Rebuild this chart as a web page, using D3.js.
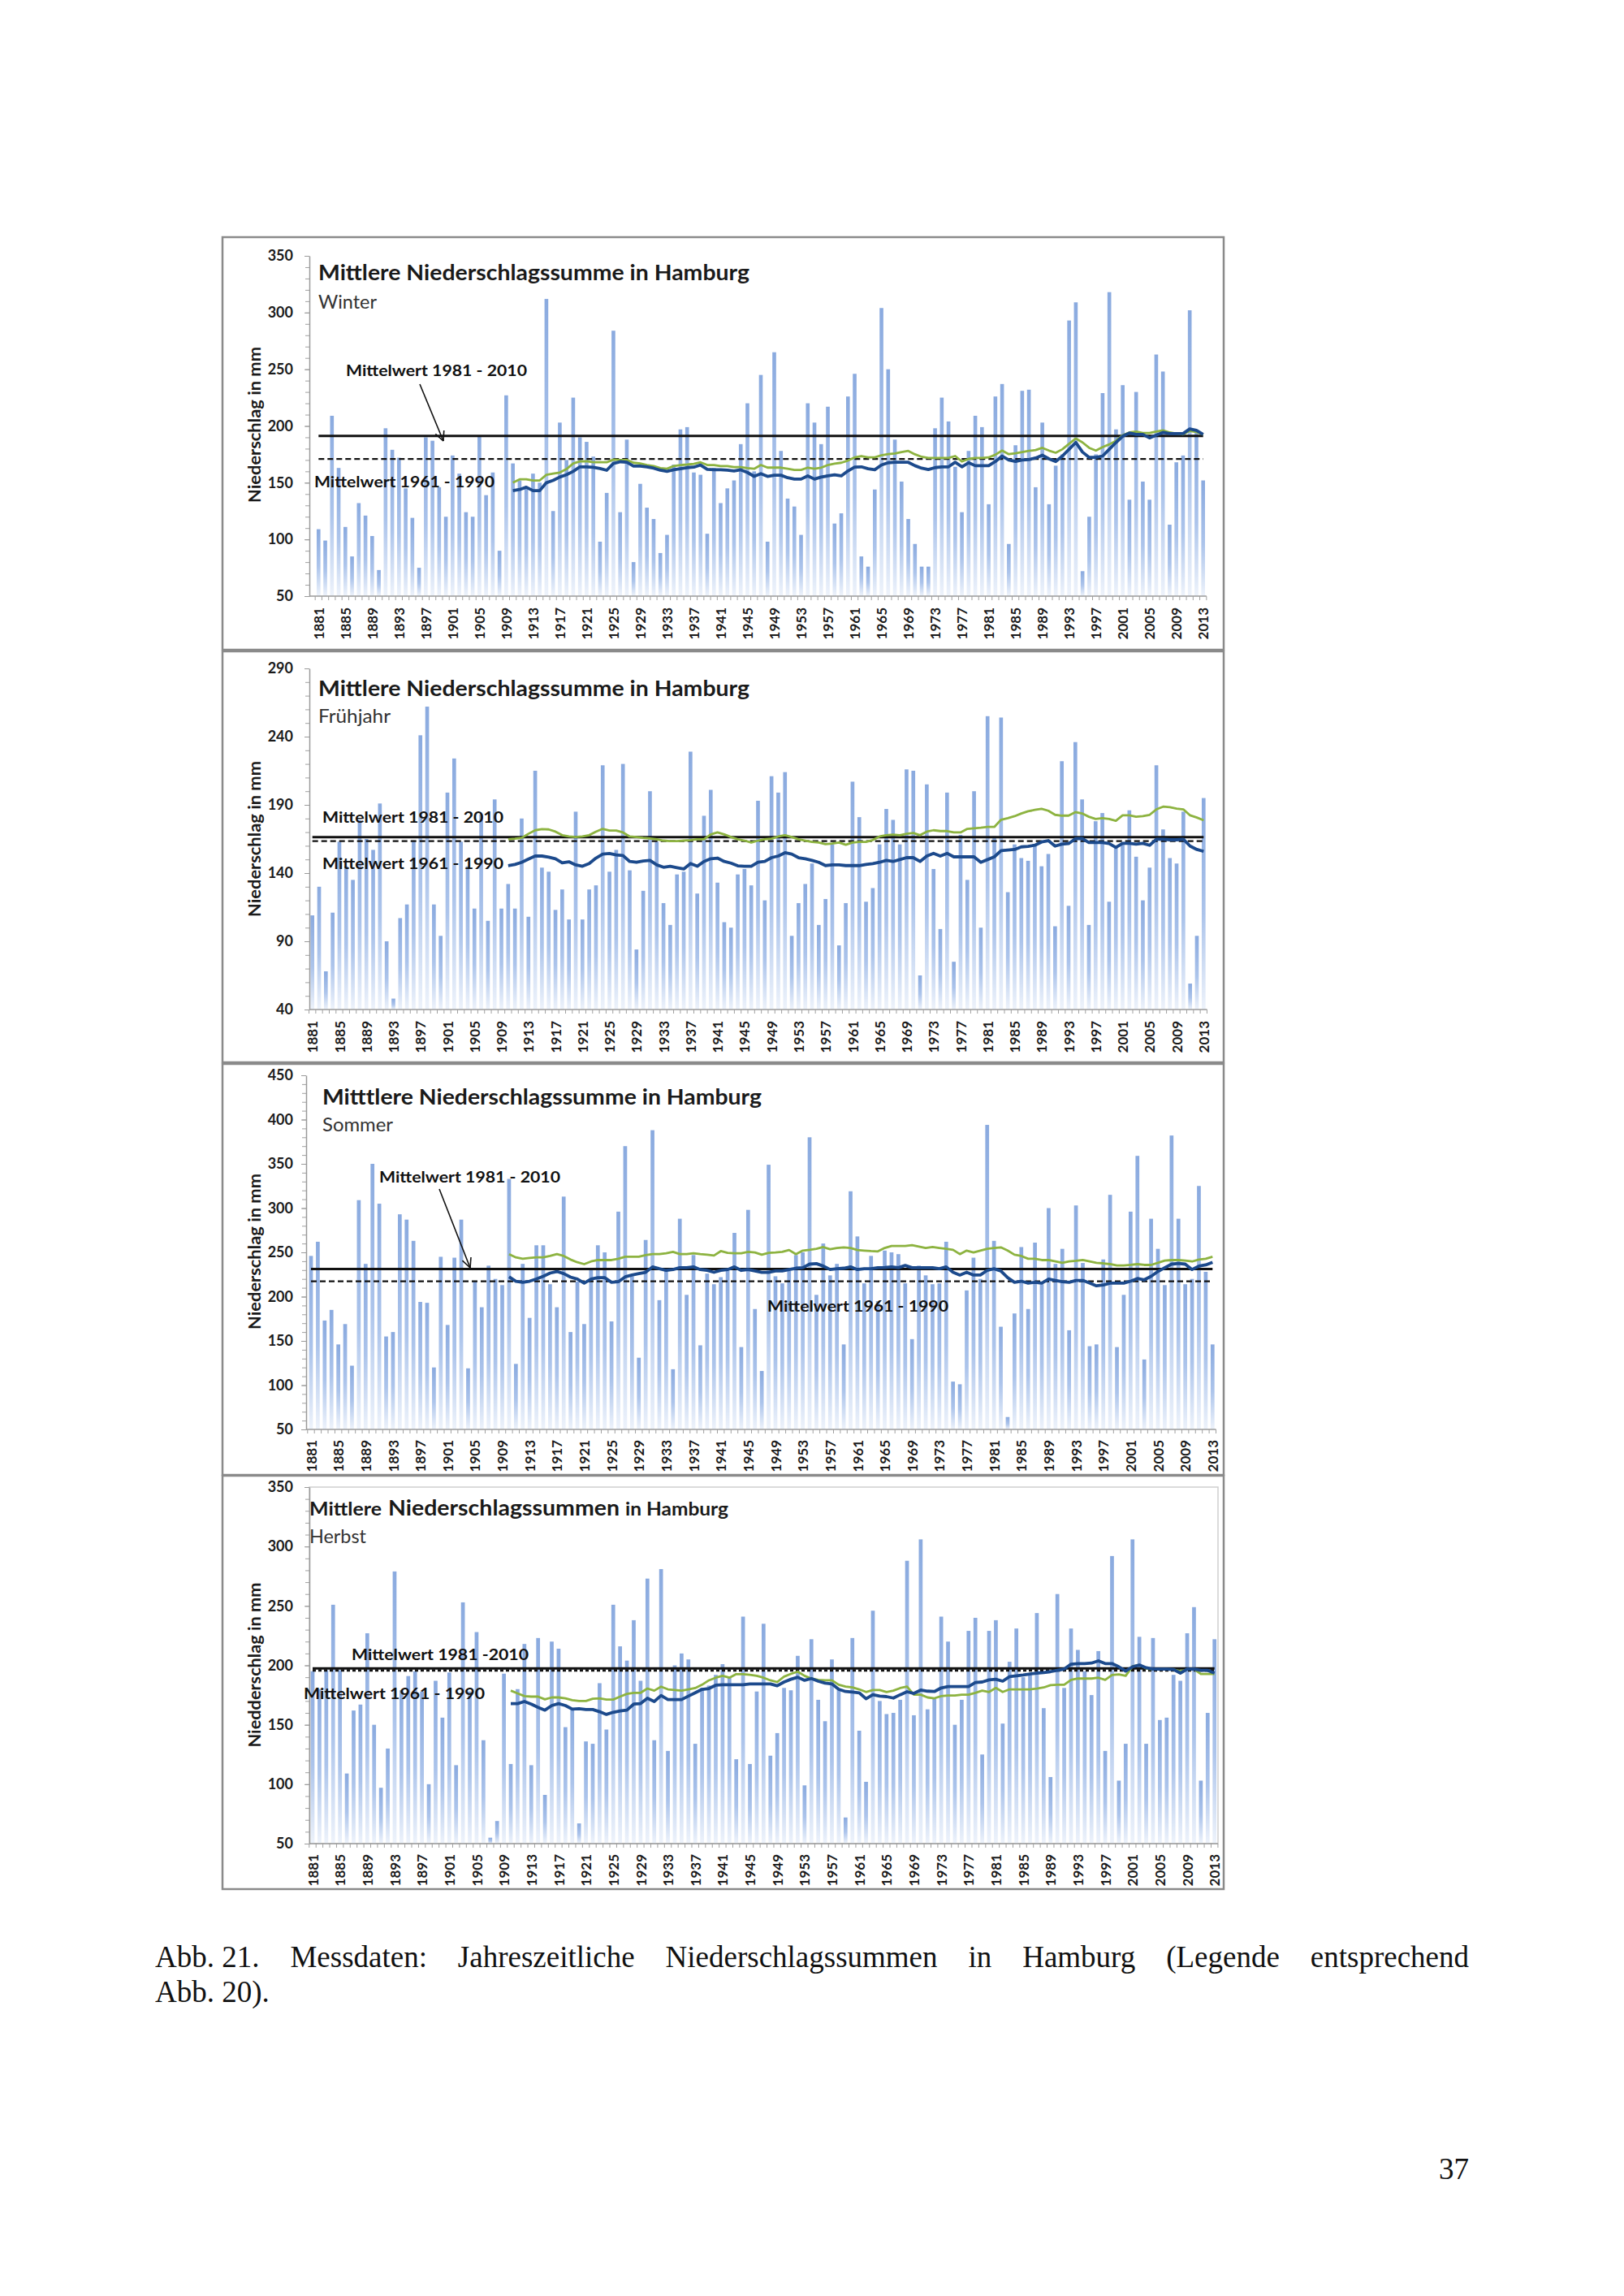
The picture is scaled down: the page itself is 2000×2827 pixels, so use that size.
<!DOCTYPE html>
<html><head><meta charset="utf-8">
<script src="https://cdn.jsdelivr.net/npm/d3@7/dist/d3.min.js"></script>
<style>body{margin:0;background:#fff}svg{display:block}</style>
</head><body>
<svg id="c" width="2000" height="2827"></svg>
<script>
// ---------------- DATA ----------------
const years = d3.range(1881, 2014);
const smoothYears = d3.range(1910, 2014);
const tickYears = years.filter(y => (y - 1881) % 4 === 0);

const winter = [109,99,209,163,111,85,132,121,103,73,
198,179,172,145,119,75,190,187,146,120,
174,158,124,120,191,139,159,90,227,167,
152,145,158,150,312,125,203,170,225,190,
186,173,98,141,284,124,188,80,149,128,
118,88,104,166,197,199,159,157,105,163,
132,145,152,184,220,160,245,98,265,178,
136,129,104,220,203,184,217,114,123,226,
246,85,76,144,304,250,188,151,118,96,
76,76,198,225,204,164,124,178,209,199,
131,226,237,96,183,231,232,146,203,131,
165,175,293,309,72,120,175,229,318,197,
236,135,230,151,135,263,248,113,168,174,
302,195,152];
const winterGreen = [150,153,153,152,152,157,158,159,162,167,
168.7,169,168,168,168,170.4,170,170,167.6,167,
165.6,164.7,162.8,162.3,164.7,165.6,166,166.6,168,165.6,
165.6,164.7,164.7,163.7,163.7,162.8,162.3,165.6,163.3,163.3,
163.3,162.3,161.3,161.3,163.3,162.3,163.3,165.6,166.8,167.6,
169.5,172.3,173.5,172.3,172.3,174.2,175.2,175.7,177,178,
175,172.8,171.8,171.8,171.8,171.8,173.5,168.7,171,171.8,
171.8,172.3,174.7,178.3,175.2,176,177,178,178.8,180.7,
178.3,176.4,179.5,184.3,189,185.5,180.7,178.3,181.4,183.8,
187,191.9,194.3,195,193.8,193.8,195,196.2,194.3,193.3,
192.6,195.7,194.7,192.6];
const winterBlue = [143,144,146,143,143,150,152,155,157,160,
164,164,163.5,162.5,161,167,168.5,168,164.7,164.7,
164,162.8,161,160,161.4,162.3,163.3,163.7,165.6,161.8,
161.4,161.4,161,160.4,161.4,159,155.6,158,155.6,156.6,
156.6,154.4,153.2,153.2,156,153.2,155,156,157,156,
160.4,163.7,164,162.3,161.4,165.6,167.6,168,168,168,
165,162.8,161.6,163.3,164,164,168,164,167.6,165,
165,165,168.7,173.5,170,168.7,170,170.4,171.8,174.2,
171,168.7,173.5,179.5,185.5,177,172.3,172.3,173.5,179.5,
185.5,191,193.8,192.6,192.6,189.5,191.9,194.3,193.3,193.3,
193.3,197.4,196.2,192.6];

const spring = [109,130,68,111,163,145,135,179,165,157,
191,90,48,107,117,164,241,262,117,94,
199,224,163,145,114,183,105,194,114,132,
114,180,108,215,144,141,113,128,106,185,
106,128,131,219,141,157,220,142,84,127,
200,163,118,102,139,141,229,125,182,201,
133,104,100,139,143,131,193,120,211,199,
214,94,118,132,147,102,121,161,87,118,
207,181,119,129,161,187,179,161,216,215,
65,205,143,99,199,75,168,135,200,100,
255,167,254,126,161,151,149,161,145,154,
101,222,116,236,194,102,178,184,119,159,
162,186,152,120,144,219,172,151,147,185,
59,94,195];
const springGreen = [164.8,165.2,165.8,168.8,171.4,172.2,172,170.4,167.8,166.8,
166.4,166.8,167.8,170.4,172.4,171.2,171.2,169.8,166.8,166.4,
165.8,165.4,164.8,163.8,163.4,163.4,163.8,164.2,164.8,164.8,
168.4,169.8,168.4,166.4,164.8,163.8,162.4,163.8,164.8,165.2,
166.8,167.8,166.4,164.8,163.8,162.8,162.4,161.2,161.6,162.4,
160.8,162.4,162.8,162.8,164.2,166.8,167.8,168.2,167.8,168.8,
169.4,167.8,170.4,171.4,170.8,170.8,169.8,169.8,172.4,172.8,
173.2,173.8,173.8,179.1,180.3,181.7,183.7,185.3,186.3,187.1,
185.7,182.7,182.1,182.1,184.7,183.7,181.3,179.7,180.3,179.7,
178.3,182.3,182.3,181.3,181.7,182.7,186.7,188.7,188.3,187.3,
186.7,182.3,180.7,178.7];
const springBlue = [145.5,146.3,147.9,150.3,152.5,152.5,151.7,150.5,147.5,148.3,
146,145,147,151,153.9,154.3,153.3,152.9,148.5,147.9,
148.9,149.3,146,144.3,145,144,143,147,145,148.5,
150.5,151,148.5,147.3,145.3,145,145,147.9,148.5,151.3,
152.5,154.9,153.9,151.3,150.5,149.3,147.9,145.5,146,146,
145.5,145.5,145.5,146.3,146.9,147.9,149.3,148.5,149.9,151.3,
151.3,148.5,152.5,154.5,152.5,154.5,151.9,151.9,151.9,151.9,
147.9,149.9,151.9,156.5,156.9,157.3,159.2,159.6,160.4,162.8,
163.8,159.8,161.2,161.6,165.2,165.4,162.4,162.4,162.4,161.6,
158.8,161.8,161.8,161.2,161.8,160.4,164.8,164.8,164.4,164.4,
164.8,159.8,157.3,155.9];

const summer = [246,262,173,185,146,169,122,309,237,350,
305,155,160,293,287,263,194,193,120,245,
168,244,287,119,218,188,235,220,213,333,
124,237,176,258,258,214,188,313,160,217,
169,232,258,250,172,296,370,223,131,264,
388,196,229,118,288,202,247,145,226,214,
222,229,272,143,298,186,116,349,223,215,
229,247,250,380,202,260,224,237,146,319,
268,215,246,195,252,250,248,215,152,235,
224,214,215,262,104,101,207,244,220,394,
263,166,64,181,256,186,261,214,300,237,
254,162,303,238,144,146,242,315,143,202,
296,359,129,288,254,213,382,288,214,220,
325,228,146];
const summerGreen = [248,244.3,242.8,243.7,244.3,244.3,245.9,248,245.9,241.9,
238.8,236.7,239.7,241.3,241.3,241.3,242.8,245,245,245,
246.8,248,248,249,250.5,248,248,249,248,247.4,
246.5,251.4,249.5,249,249,250.5,249.9,247.4,249.5,249.9,
250.5,252.6,248,252,252.9,254.1,256,253.5,255,255.7,
255,252.6,252,251.4,251.1,255,257.2,257.2,257.2,258.1,
256.6,255,256,255,254.1,252.9,248,252,249.9,252,
254.1,255,255.7,252,247.4,245.9,242.8,242.8,241.3,241.3,
239.7,238.2,239.7,240.4,241.3,239.7,238.2,237.6,236.7,235.2,
235.2,235.8,236.7,235.8,235.8,238.2,240.7,241.3,241.3,240.7,
239.7,241.9,242.8,245];
const summerBlue = [222.3,217.4,216.2,217.4,219.9,222.9,226.6,228.4,226,222,
219.9,215.3,219.9,221.4,221.4,216.2,216.8,222.3,224.4,226,
227.5,233.6,231.5,229.6,230.6,232.7,232.7,233.6,230.6,229.6,
227.5,229.6,230.6,233.6,229.6,230.6,229,227.5,227.5,229,
229,230.6,232.1,232.7,236.7,237.3,234.5,230.6,231.5,232.1,
233.6,230.6,231.5,231.5,232.7,233,233.6,232.7,235.2,232.7,
232.7,232.7,232.7,231.5,233.6,227.5,224.4,227.5,224.4,224.4,
229.6,231.5,229,221.4,216.2,217.4,215.3,216.2,215.3,219.9,
218.3,216.8,216.2,218.3,218.3,215.3,212.2,213.1,215.3,215.3,
215.3,217.4,220.5,219,222.9,228.4,232.7,236.7,237.6,236.7,
230.6,234.5,235.8,238.8];

const autumn = [195,180,196,251,196,109,162,167,227,150,
97,130,279,179,191,195,178,100,187,156,
194,116,253,178,228,137,55,69,193,117,
180,218,116,223,91,220,214,148,163,67,
136,134,185,146,251,216,204,238,187,273,
137,281,128,200,210,205,134,181,183,192,
201,190,121,241,117,178,235,124,143,181,
179,208,99,222,171,153,205,179,72,223,
145,102,246,170,159,160,171,288,158,306,
163,172,241,220,150,171,229,240,125,229,
238,151,203,231,190,192,244,164,106,260,
181,231,213,195,175,212,128,292,103,134,
306,224,134,223,154,156,192,187,227,249,
103,160,222];
const autumnGreen = [178.7,176.4,174.1,173.7,173.7,171.4,173,173,172.3,170.7,
170,170,171.9,172.3,171.2,171.2,173.7,176,176.9,176.9,
180.5,178.7,182.1,179.8,179.2,178.7,179.8,180.9,183.7,187.4,
189.6,191.2,189.6,192.6,192.6,192.1,191.2,189.6,187.4,186,
190.5,192.8,194.7,191.2,188.9,187.8,187.4,187.4,183.7,182.1,
181.4,179.8,177.6,179.2,179.2,177.6,178.7,180.9,182.1,175.3,
175.3,173,172.3,174.1,174.6,174.6,175.3,175.3,176.9,178.7,
177.6,181,177.6,179.8,179.8,179.8,179.8,180.5,181.4,183.3,
183.7,183.7,187.8,188.9,188.9,188.9,189.6,187.8,191.9,192.4,
191.2,199.2,200.3,197.4,196.5,196.5,196.5,196.5,195.1,196.5,
196.9,192.8,192.8,192.8];
const autumnBlue = [167.8,167.8,169.6,167.4,164.6,162.3,166.2,167.8,166.2,163.2,
163.5,162.8,162.8,161,158.7,160.5,161.6,162.3,167.4,167.8,
172.3,169.6,174.6,171.2,171.2,171.2,174.1,176.9,179.8,180.5,
183.3,183.7,183.7,183.7,183.7,184.4,184.4,184.4,184.4,182.8,
186,188.3,190,187.4,188.9,186.7,185.1,184.4,179.8,178,
177.6,176.9,171.9,175.3,174.1,173.7,172.5,175.3,177.8,176.4,
179.2,178.3,178,181,182.1,182.1,182.1,182.1,185.5,186,
187.8,188.3,186.7,190.5,191.2,191.9,192.8,193.5,194,194.7,
195.8,196.9,201,201.5,201.5,201.9,203.8,201.5,201.5,198.8,
195.1,198.8,200.3,198,196.9,196.9,196.9,196.5,193.5,196.9,
196.9,195.8,195.8,193.5];

// reference means [1981-2010, 1961-1990]
const means = {winter:[191.2,170.9], spring:[166.4,163.4], summer:[231.2,217.4], autumn:[197.4,195.8]};
const yDomains = {winter:[50,350], spring:[40,290], summer:[50,450], autumn:[50,350]};

// ---------------- LAYOUT ----------------
const panels = [
 {key:"winter", values:winter, green:winterGreen, blue:winterBlue,
  frame:[274,292,1507,800], axisX:381, yTop:315, yBot:734, c0:392.3, c1:1481.7, labelY:748,
  titles:[{t:"Mittlere Niederschlagssumme in Hamburg", x:392, w:531, size:27}], titleY:345,
  sub:"Winter", subX:392, subY:380, subW:72,
  yTitle:"Niederschlag in mm", yTitleCY:523, yTitleW:192,
  notes:[{t:"Mittelwert 1981 - 2010", x:426, y:463, w:223},{t:"Mittelwert 1961 - 1990", x:387, y:600, w:222}],
  arrows:[[517,473,546,543]], box:false},
 {key:"spring", values:spring, green:springGreen, blue:springBlue,
  frame:[274,802,1507,1308], axisX:381, yTop:823, yBot:1243, c0:384.7, c1:1482.3, labelY:1257,
  titles:[{t:"Mittlere Niederschlagssumme in Hamburg", x:392, w:531, size:27}], titleY:857,
  sub:"Frühjahr", subX:392, subY:890, subW:89,
  yTitle:"Niederschlag in mm", yTitleCY:1033, yTitleW:192,
  notes:[{t:"Mittelwert 1981 - 2010", x:397, y:1013, w:223},{t:"Mittelwert 1961 - 1990", x:397, y:1070, w:223}],
  arrows:[], box:false},
 {key:"summer", values:summer, green:summerGreen, blue:summerBlue,
  frame:[274,1310,1507,1816], axisX:377, yTop:1324, yBot:1760, c0:383, c1:1493.3, labelY:1773,
  titles:[{t:"Mitttlere Niederschlagssumme in Hamburg", x:397, w:541, size:27}], titleY:1360,
  sub:"Sommer", subX:397, subY:1393, subW:87,
  yTitle:"Niederschlag in mm", yTitleCY:1541, yTitleW:192,
  notes:[{t:"Mittelwert 1981 - 2010", x:467, y:1456, w:223},{t:"Mittelwert 1961 - 1990", x:945, y:1615, w:223}],
  arrows:[[541,1464,579,1561]], box:false},
 {key:"autumn", values:autumn, green:autumnGreen, blue:autumnBlue,
  frame:[274,1817,1507,2326], axisX:381, yTop:1831, yBot:2270, c0:385, c1:1495.7, labelY:2283,
  titles:[{t:"Mittlere", x:381, w:89, size:22},{t:"Niederschlagssummen", x:478, w:285, size:27},{t:"in Hamburg", x:770, w:127, size:22}], titleY:1866,
  sub:"Herbst", subX:381, subY:1900, subW:70,
  yTitle:"Niedderschlag in mm", yTitleCY:2050, yTitleW:203,
  notes:[{t:"Mittelwert 1981 -2010", x:433, y:2044, w:218},{t:"Mittelwert 1961 - 1990", x:374, y:2092, w:223}],
  arrows:[], box:true, boxRight:1500}
];

const FONT = "Lato, 'Open Sans', sans-serif";
const svg = d3.select("#c");
svg.append("rect").attr("width",2000).attr("height",2827).attr("fill","#fff");
const defs = svg.append("defs");
const grad = defs.append("linearGradient").attr("id","barGrad").attr("x1",0).attr("y1",0).attr("x2",0).attr("y2",1);
grad.append("stop").attr("offset","0%").attr("stop-color","#8AAADF");
grad.append("stop").attr("offset","55%").attr("stop-color","#ACC4EB");
grad.append("stop").attr("offset","100%").attr("stop-color","#EEF3FB");

panels.forEach(p => {
  const [fx0, fy0, fx1, fy1] = p.frame;
  const dom = yDomains[p.key];
  const gp = svg.append("g");
  const y = d3.scaleLinear().domain(dom).range([p.yBot, p.yTop]);
  const x = d3.scalePoint().domain(years).range([p.c0, p.c1]);
  const step = x.step();
  const bw = step * 0.56;
  const xEnd = p.c1 + step / 2;

  if (p.box) {
    gp.append("rect").attr("x", p.axisX).attr("y", p.yTop).attr("width", p.boxRight - p.axisX)
      .attr("height", p.yBot - p.yTop).attr("fill","none").attr("stroke","#cfcfcf").attr("stroke-width",1.5);
  }

  // bars
  gp.append("g").selectAll("rect")
    .data(years.map((yr, i) => ({yr, v: p.values[i]})))
    .join("rect")
    .attr("x", d => x(d.yr) - bw / 2)
    .attr("y", d => y(d.v))
    .attr("width", bw)
    .attr("height", d => y(dom[0]) - y(d.v))
    .attr("fill", "url(#barGrad)");

  // y axis minor ticks
  const minor = gp.append("g").attr("transform", `translate(${p.axisX},0)`)
    .call(d3.axisLeft(y).tickValues(d3.range(dom[0], dom[1] + 1, 10)).tickSize(5).tickSizeOuter(0).tickFormat(""));
  minor.select(".domain").remove();
  minor.selectAll(".tick line").attr("stroke", "#a0a0a0");
  // y axis major
  const ya = gp.append("g").attr("transform", `translate(${p.axisX},0)`)
    .call(d3.axisLeft(y).tickValues(d3.range(dom[0], dom[1] + 1, 50)).tickSize(6).tickSizeOuter(0).tickPadding(p.axisX - 361 - 6));
  ya.select(".domain").attr("stroke", "#9a9a9a").attr("stroke-width", 1.5);
  ya.selectAll(".tick line").attr("stroke", "#9a9a9a");
  ya.selectAll("text").attr("font-family", FONT).attr("font-weight", 700).attr("font-size", 18).attr("fill", "#1a1a1a");

  // x axis line + category boundary ticks
  gp.append("line").attr("x1", p.axisX).attr("x2", xEnd).attr("y1", p.yBot).attr("y2", p.yBot)
    .attr("stroke", "#9a9a9a").attr("stroke-width", 1.5);
  gp.append("g").selectAll("line").data(years.concat([2014])).join("line")
    .attr("x1", d => (d <= 2013 ? x(d) : p.c1 + step) - step / 2)
    .attr("x2", d => (d <= 2013 ? x(d) : p.c1 + step) - step / 2)
    .attr("y1", p.yBot).attr("y2", p.yBot + 5).attr("stroke", "#a0a0a0").attr("stroke-width", 1);

  // year labels
  const xa = gp.append("g").attr("transform", `translate(0,${p.yBot})`)
    .call(d3.axisBottom(x).tickValues(tickYears).tickSize(0).tickFormat(d3.format("d")));
  xa.select(".domain").remove();
  xa.selectAll("text")
    .attr("transform", "rotate(-90)")
    .attr("x", -(p.labelY - p.yBot)).attr("y", 0).attr("dy", "0.36em")
    .attr("text-anchor", "end")
    .attr("font-family", FONT).attr("font-weight", 700).attr("font-size", 17).attr("fill", "#1a1a1a");

  // reference lines
  const [m1, m2] = means[p.key];
  gp.append("line").attr("x1", x(1881)).attr("x2", x(2013)).attr("y1", y(m2)).attr("y2", y(m2))
    .attr("stroke", "#111").attr("stroke-width", p.key === "autumn" ? 3 : 2.2).attr("stroke-dasharray", p.key === "autumn" ? "4,3" : "7,4");
  gp.append("line").attr("x1", x(1881)).attr("x2", x(2013)).attr("y1", y(m1)).attr("y2", y(m1))
    .attr("stroke", "#111").attr("stroke-width", 3);

  // smoothed lines
  const line = d3.line().x(d => x(d.yr)).y(d => y(d.v));
  gp.append("path").datum(smoothYears.map((yr, i) => ({yr, v: p.green[i]})))
    .attr("d", line).attr("fill", "none").attr("stroke", "#8DB340").attr("stroke-width", 2.8).attr("stroke-linejoin", "round");
  gp.append("path").datum(smoothYears.map((yr, i) => ({yr, v: p.blue[i]})))
    .attr("d", line).attr("fill", "none").attr("stroke", "#1C4A8C").attr("stroke-width", 3.8).attr("stroke-linejoin", "round");

  // titles
  p.titles.forEach(t => {
    gp.append("text").attr("x", t.x).attr("y", p.titleY).text(t.t)
      .attr("font-family", FONT).attr("font-weight", 700).attr("font-size", t.size).attr("fill", "#1a1a1a")
      .attr("textLength", t.w).attr("lengthAdjust", "spacingAndGlyphs");
  });
  gp.append("text").attr("x", p.subX).attr("y", p.subY).text(p.sub)
    .attr("font-family", FONT).attr("font-size", 23).attr("fill", "#333")
    .attr("textLength", p.subW).attr("lengthAdjust", "spacingAndGlyphs");

  // y title
  gp.append("text").attr("transform", `translate(321,${p.yTitleCY}) rotate(-90)`)
    .attr("text-anchor", "middle").text(p.yTitle)
    .attr("font-family", FONT).attr("font-weight", 700).attr("font-size", 21).attr("fill", "#1a1a1a")
    .attr("textLength", p.yTitleW).attr("lengthAdjust", "spacingAndGlyphs");

  // notes
  p.notes.forEach(n => {
    gp.append("text").attr("x", n.x).attr("y", n.y).text(n.t)
      .attr("font-family", FONT).attr("font-weight", 700).attr("font-size", 19).attr("fill", "#111")
      .attr("textLength", n.w).attr("lengthAdjust", "spacingAndGlyphs");
  });
  p.arrows.forEach(([ax0, ay0, ax1, ay1]) => {
    gp.append("line").attr("x1", ax0).attr("y1", ay0).attr("x2", ax1).attr("y2", ay1).attr("stroke", "#111").attr("stroke-width", 1.6);
    const ang = Math.atan2(ay1 - ay0, ax1 - ax0);
    [0.45, -0.45].forEach(da => {
      gp.append("line").attr("x1", ax1).attr("y1", ay1)
        .attr("x2", ax1 - 13 * Math.cos(ang + da)).attr("y2", ay1 - 13 * Math.sin(ang + da))
        .attr("stroke", "#111").attr("stroke-width", 1.6);
    });
  });

  // frame
  gp.append("rect").attr("x", fx0).attr("y", fy0).attr("width", fx1 - fx0).attr("height", fy1 - fy0)
    .attr("fill", "none").attr("stroke", "#8a8a8a").attr("stroke-width", 2.5);
});

// ---------------- CAPTION ----------------
const SERIF = "'Liberation Serif', 'Times New Roman', serif";
const words = ["Abb. 21.","Messdaten:","Jahreszeitliche","Niederschlagssummen","in","Hamburg","(Legende","entsprechend"];
const cap = svg.append("g").attr("font-family", SERIF).attr("font-size", 37).attr("fill", "#111");
const nodes = words.map(w => cap.append("text").attr("y", 2422).text(w));
const widths = nodes.map(n => n.node().getComputedTextLength());
const L = 191, R = 1809;
const gap = (R - L - d3.sum(widths)) / (words.length - 1);
let cx = L;
nodes.forEach((n, i) => { n.attr("x", cx); cx += widths[i] + gap; });
cap.append("text").attr("x", L).attr("y", 2465).text("Abb. 20).");
cap.append("text").attr("x", R).attr("y", 2683).attr("text-anchor", "end").text("37");
</script>
</body></html>
